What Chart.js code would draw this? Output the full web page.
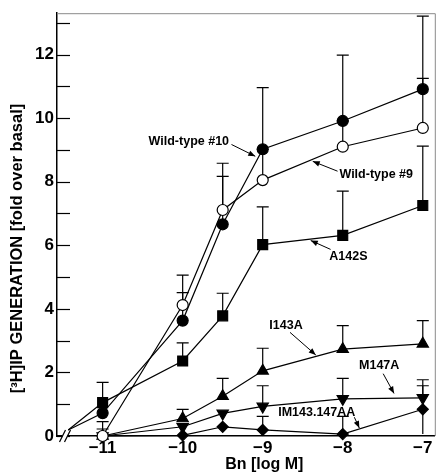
<!DOCTYPE html>
<html><head><meta charset="utf-8">
<script src="https://cdn.jsdelivr.net/npm/chart.js@4.4.0/dist/chart.umd.min.js"></script>
<style>html,body{margin:0;padding:0;background:#fff}</style>
</head><body>
<canvas id="c" width="443" height="474"></canvas>
<script>
// ---------- data ----------
const logDose = [-11, -10, -9.5, -9, -8, -7];
const xTickValues = [-11, -10, -9, -8, -7];
const xTickLabels = ['\u221211', '\u221210', '\u22129', '\u22128', '\u22127'];
const yTickValues = [0, 2, 4, 6, 8, 10, 12];
const yMinorTickValues = [1, 3, 5, 7, 9, 11, 13];
const originPoint = { x: -11.43, y: 0.19 };

const wt10 = [0.72, 3.63, 6.66, 9.02, 9.91, 10.91];
const wt10ErrTop = [null, 4.51, 8.17, 10.96, 11.98, 13.21];
const wt9 = [0.0, 4.12, 7.11, 8.05, 9.10, 9.69];
const wt9ErrTop = [0.45, 5.06, 8.58, 9.02, 9.91, 11.25];
const a142s = [1.05, 2.36, 3.78, 6.02, 6.31, 7.25];
const a142sErrTop = [1.69, 2.93, 4.49, 7.21, 7.70, 9.12];
const i143a = [0.0, 0.55, 1.25, 2.05, 2.73, 2.90];
const i143aErrTop = [0.22, 0.84, 1.81, 2.76, 3.47, 3.63];
const m147a = [0.0, 0.29, 0.71, 0.93, 1.17, 1.20];
const m147aErrTop = [null, null, null, 1.58, 1.81, 1.77];
const im143 = [0.0, 0.02, 0.29, 0.19, 0.06, 0.84];
const im143ErrTop = [null, null, null, 0.62, 0.62, 1.58];
const im143ErrLow = [null, null, null, null, null, 0.06];

const yTitle = '[\u00B3H]IP GENERATION [fold over basal]';
const xTitle = 'Bn [log M]';

// annotation labels (data coordinates)
const notes = [
  { text: 'Wild-type #10', tx: -9.923, ty: 9.26, from: [-9.39, 9.17], to: [-9.093, 8.80] },
  { text: 'Wild-type #9', tx: -7.582, ty: 8.21, from: [-8.065, 8.33], to: [-8.375, 8.64] },
  { text: 'A142S', tx: -7.929, ty: 5.66, from: [-8.152, 5.87], to: [-8.40, 6.15] },
  { text: 'I143A', tx: -8.709, ty: 3.48, from: [-8.659, 3.26], to: [-8.337, 2.55] },
  { text: 'M147A', tx: -7.545, ty: 2.21, from: [-7.495, 1.96], to: [-7.359, 1.34] },
  { text: 'IM143.147AA', tx: -8.325, ty: 0.75, from: [-7.855, 0.59], to: [-7.793, 0.25] }
];
const breakValue = -11.47;
const xTitleCenter = -8.98;
const yTitleCenter = 5.9;

// ---------- styles ----------
const FONT = '"Liberation Sans", Arial, Helvetica, sans-serif';
const toPts = vals => logDose.map((x, i) => ({ x, y: vals[i] }));

function series(label, pts, style, radius, fill, errTop, errLow, hasOrigin, rotation) {
  return {
    label, data: pts, errTop, errLow: errLow || [],
    borderColor: '#000', borderWidth: 1.2, tension: 0, clip: false,
    pointStyle: style, pointRotation: rotation || 0,
    pointRadius: ctx => (hasOrigin && ctx.dataIndex === 0) ? 0 : radius,
    pointBackgroundColor: fill, pointBorderColor: '#000', pointBorderWidth: 1.2,
    pointHoverRadius: radius
  };
}

const datasets = [
  series('Wild-type #9', toPts(wt9), 'circle', 5.5, '#fff', wt9ErrTop),
  series('Wild-type #10', [originPoint, ...toPts(wt10)], 'circle', 5.5, '#000', wt10ErrTop, null, true),
  series('A142S', [originPoint, ...toPts(a142s)], 'rect', 7, '#000', a142sErrTop, null, true),
  series('I143A', toPts(i143a), 'triangle', 6.5, '#000', i143aErrTop),
  series('M147A', toPts(m147a), 'triangle', 6.5, '#000', m147aErrTop, null, false, 180),
  series('IM143.147AA', toPts(im143), 'rectRot', 5.5, '#000', im143ErrTop, im143ErrLow)
];

const decor = {
  id: 'decor',
  beforeDatasetsDraw(chart) {
    const { ctx, scales: { x, y } } = chart;
    ctx.save();
    ctx.strokeStyle = '#000'; ctx.lineWidth = 1.2;
    chart.data.datasets.forEach(ds => {
      const vals = ds.data.slice(ds.data.length - logDose.length);
      ds.errTop.forEach((e, i) => {
        if (e == null) return;
        const px = x.getPixelForValue(logDose[i]);
        const p0 = y.getPixelForValue(vals[i].y), p1 = y.getPixelForValue(e);
        ctx.beginPath(); ctx.moveTo(px, p0); ctx.lineTo(px, p1);
        ctx.moveTo(px - 6, p1); ctx.lineTo(px + 6, p1); ctx.stroke();
      });
      ds.errLow.forEach((e, i) => {
        if (e == null) return;
        const px = x.getPixelForValue(logDose[i]);
        ctx.beginPath(); ctx.moveTo(px, y.getPixelForValue(vals[i].y)); ctx.lineTo(px, y.getPixelForValue(e)); ctx.stroke();
      });
    });
    ctx.restore();
  },
  afterDraw(chart) {
    const { ctx, chartArea: a, scales: { x, y } } = chart;
    ctx.save();
    // frame top/right
    ctx.strokeStyle = '#8a8a8a'; ctx.lineWidth = 1;
    ctx.beginPath(); ctx.moveTo(a.left, a.top + 0.5); ctx.lineTo(a.right + 0.5, a.top + 0.5); ctx.lineTo(a.right + 0.5, a.bottom); ctx.stroke();
    // inward y ticks
    ctx.strokeStyle = '#000'; ctx.lineWidth = 1.2;
    [...yTickValues, ...yMinorTickValues].forEach(v => {
      const py = Math.round(y.getPixelForValue(v)) + 0.5;
      ctx.beginPath(); ctx.moveTo(a.left, py); ctx.lineTo(a.left + 13, py); ctx.stroke();
    });
    // axis break
    const bx = x.getPixelForValue(breakValue), by = a.bottom;
    ctx.fillStyle = '#fff';
    ctx.fillRect(bx - 2.5, by - 2, 5, 4);
    ctx.strokeStyle = '#000'; ctx.lineWidth = 1.2;
    [-2.5, 2.5].forEach(o => {
      ctx.beginPath(); ctx.moveTo(bx + o - 3, by + 6); ctx.lineTo(bx + o + 3, by - 6); ctx.stroke();
    });
    // notes
    ctx.font = 'bold 12.5px ' + FONT; ctx.fillStyle = '#000';
    ctx.textAlign = 'center'; ctx.textBaseline = 'middle';
    notes.forEach(n => {
      ctx.fillText(n.text, x.getPixelForValue(n.tx), y.getPixelForValue(n.ty));
      const x1 = x.getPixelForValue(n.from[0]), y1 = y.getPixelForValue(n.from[1]);
      const x2 = x.getPixelForValue(n.to[0]), y2 = y.getPixelForValue(n.to[1]);
      ctx.lineWidth = 1;
      ctx.beginPath(); ctx.moveTo(x1, y1); ctx.lineTo(x2, y2); ctx.stroke();
      const ang = Math.atan2(y2 - y1, x2 - x1), L = 7, W = 2.8;
      ctx.beginPath();
      ctx.moveTo(x2, y2);
      ctx.lineTo(x2 - L * Math.cos(ang) + W * Math.sin(ang), y2 - L * Math.sin(ang) - W * Math.cos(ang));
      ctx.lineTo(x2 - L * Math.cos(ang) - W * Math.sin(ang), y2 - L * Math.sin(ang) + W * Math.cos(ang));
      ctx.closePath(); ctx.fill();
    });
    // axis titles
    ctx.font = 'bold 16px ' + FONT;
    ctx.fillText(xTitle, x.getPixelForValue(xTitleCenter), 465);
    ctx.save();
    ctx.translate(17, y.getPixelForValue(yTitleCenter));
    ctx.rotate(-Math.PI / 2);
    ctx.font = 'bold 16.5px ' + FONT;
    ctx.fillText(yTitle, 0, 0);
    ctx.restore();
    ctx.restore();
  }
};

new Chart(document.getElementById('c'), {
  type: 'line',
  data: { datasets },
  options: {
    responsive: false, animation: false, devicePixelRatio: 1,
    layout: { padding: { top: 7, right: 5, left: 0, bottom: 0 } },
    plugins: { legend: { display: false }, tooltip: { enabled: false } },
    scales: {
      x: {
        type: 'linear', min: -11.57, max: -6.85,
        afterBuildTicks: s => { s.ticks = xTickValues.map(v => ({ value: v })); },
        ticks: {
          callback: v => xTickLabels[xTickValues.indexOf(v)],
          font: { family: FONT, size: 17, weight: 'bold' }, color: '#000',
          padding: 2, maxRotation: 0, autoSkip: false
        },
        grid: { display: false, drawTicks: false },
        border: { display: true, color: '#000', width: 1.5 },
        afterFit: s => { s.height = 38; }
      },
      y: {
        type: 'linear', min: 0, max: 13.3,
        afterBuildTicks: s => { s.ticks = yTickValues.map(v => ({ value: v })); },
        ticks: {
          font: { family: FONT, size: 17, weight: 'bold' }, color: '#000', padding: 3
        },
        grid: { display: false, drawTicks: false },
        border: { display: true, color: '#000', width: 1.5 },
        afterFit: s => { s.width = 57; }
      }
    }
  },
  plugins: [decor]
});
</script>
</body></html>
